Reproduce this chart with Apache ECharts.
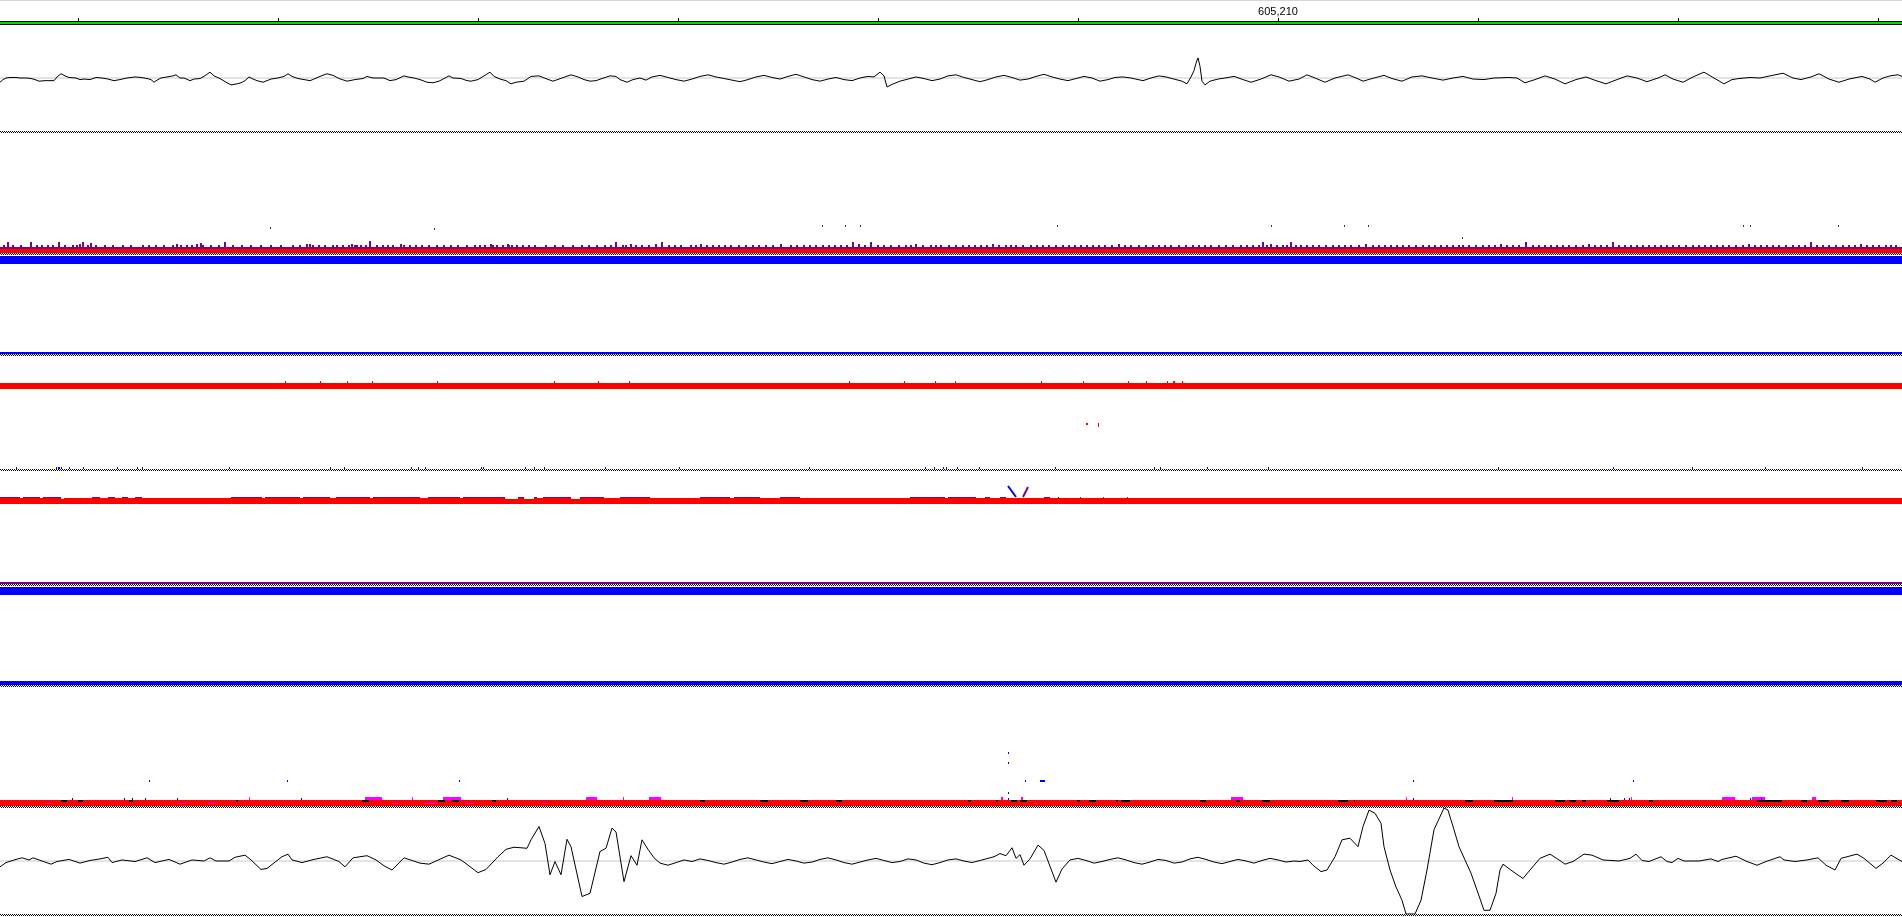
<!DOCTYPE html>
<html><head><meta charset="utf-8">
<script src="https://cdn.jsdelivr.net/npm/echarts@6/dist/echarts.min.js"></script>
<style>html,body{margin:0;padding:0;background:#fff;}#c{width:1902px;height:917px;}</style>
</head><body><div id="c"></div>
<script>
// ---------------- data ----------------
const VIEW_START = 603932, VIEW_END = 605834;          // genomic window (bp)
const rulerTicks = [604010,604210,604410,604610,604810,605010,605210,605410,605610,605810];
const rulerLabels = [605210];

// signal track A  [offset bp, value]
const wiggleA = [[0,-8],[3,-3],[6,0],[10,1],[16,1],[20,0],[27,0],[31,-1],[35,-3],[39,-6],[41,-9],[45,-5],[51,-5],[54,-5],[57,2],[61,8],[65,4],[69,1],[76,0],[80,-3],[84,-2],[90,-3],[96,1],[102,0],[108,-2],[114,-5],[120,-3],[127,0],[135,2],[141,1],[147,-1],[151,-3],[154,-8],[157,-4],[161,0],[167,2],[173,4],[176,6],[180,0],[184,0],[190,-5],[194,-2],[200,-1],[204,3],[210,11],[214,4],[220,-1],[227,-9],[231,-13],[237,-11],[241,-9],[245,-5],[249,2],[253,-2],[257,-5],[263,-8],[267,-5],[271,-2],[278,0],[284,3],[288,8],[292,3],[298,-1],[304,-3],[310,-5],[314,-2],[320,3],[327,8],[333,5],[339,-1],[347,-6],[355,-3],[363,-1],[367,3],[373,0],[384,0],[390,-5],[396,-3],[404,4],[408,2],[414,0],[420,-3],[427,-8],[433,-9],[439,-6],[445,0],[449,4],[453,0],[461,-1],[467,-5],[471,-6],[478,-3],[484,4],[490,11],[494,3],[500,-2],[506,-5],[511,-11],[516,-8],[524,-6],[531,3],[539,4],[547,-2],[553,-6],[559,-2],[565,2],[571,6],[578,2],[584,-3],[590,-6],[596,-5],[602,-1],[610,4],[616,3],[620,-3],[627,-8],[633,-3],[640,0],[646,-4],[652,2],[660,5],[668,1],[676,-3],[684,-6],[692,-2],[700,3],[708,6],[716,2],[724,-1],[732,-4],[740,-7],[748,-3],[756,2],[764,5],[772,1],[780,-2],[788,3],[796,7],[804,2],[812,-3],[820,-6],[828,-2],[836,1],[844,-3],[852,-5],[860,0],[868,3],[874,2],[880,11],[884,4],[887,-17],[892,-12],[900,-6],[908,-2],[916,2],[924,-1],[932,-5],[940,-2],[948,4],[956,6],[964,1],[972,-3],[980,-7],[988,-3],[996,2],[1004,5],[1012,1],[1020,-4],[1028,-2],[1036,3],[1044,7],[1052,2],[1060,-2],[1068,-5],[1076,-1],[1084,3],[1092,0],[1100,-6],[1108,-3],[1115,1],[1123,2],[1131,0],[1138,-3],[1143,-5],[1151,0],[1159,4],[1166,2],[1174,-2],[1182,-6],[1187,-11],[1191,2],[1194,14],[1196,28],[1198,38],[1200,22],[1202,-6],[1205,-13],[1210,-6],[1218,-2],[1225,0],[1234,3],[1243,-3],[1251,-8],[1261,-2],[1271,6],[1279,2],[1289,-6],[1299,-2],[1307,6],[1315,0],[1325,-8],[1335,0],[1348,6],[1356,0],[1363,-6],[1374,0],[1384,5],[1392,-1],[1402,-6],[1412,2],[1422,4],[1432,0],[1443,-4],[1453,0],[1463,3],[1473,-2],[1484,-3],[1494,0],[1509,1],[1517,0],[1525,-9],[1535,-3],[1545,4],[1555,-2],[1565,-11],[1576,-3],[1586,2],[1596,-5],[1606,-11],[1617,-3],[1627,4],[1637,0],[1647,-7],[1658,0],[1665,6],[1673,-2],[1683,-8],[1693,2],[1704,11],[1714,0],[1724,-11],[1732,-3],[1739,-1],[1750,1],[1760,0],[1770,4],[1783,9],[1793,0],[1801,-3],[1811,2],[1819,8],[1829,-2],[1839,-8],[1849,-2],[1862,3],[1870,-2],[1875,-8],[1883,0],[1890,4],[1898,6],[1902,3]];

// signal track B  [offset bp, value]
const wiggleB = [[0,-11],[6,-3],[16,3],[22,6],[29,2],[33,6],[39,2],[45,-2],[51,-6],[57,-1],[69,3],[80,-4],[90,1],[100,4],[108,7],[112,-3],[122,2],[135,-1],[147,6],[155,-3],[169,3],[180,-6],[192,2],[204,0],[210,6],[216,0],[229,0],[235,7],[245,11],[251,2],[261,-16],[267,-14],[282,8],[288,13],[292,2],[302,-3],[314,3],[327,8],[339,-1],[345,-11],[353,6],[367,10],[376,2],[384,-9],[392,-17],[404,6],[420,-4],[429,-6],[449,11],[461,2],[478,-22],[486,-16],[498,8],[506,22],[514,26],[527,24],[531,40],[539,65],[545,33],[550,-26],[555,-1],[561,-26],[567,41],[571,27],[582,-67],[590,-61],[600,18],[606,24],[612,62],[616,55],[624,-39],[631,10],[637,-8],[642,40],[648,22],[654,6],[660,-4],[668,-8],[676,-3],[684,2],[692,-1],[700,4],[708,1],[716,-3],[724,-6],[732,-2],[740,3],[748,6],[756,2],[764,-2],[772,-5],[780,-1],[788,3],[796,0],[804,-4],[812,-2],[820,3],[828,6],[836,2],[844,-3],[852,-6],[860,-2],[868,2],[876,5],[884,1],[892,-3],[900,-1],[908,4],[916,2],[924,-4],[932,-7],[940,-3],[948,2],[956,4],[964,0],[972,-3],[980,1],[988,5],[994,8],[1000,14],[1006,10],[1012,25],[1016,5],[1020,12],[1024,-8],[1030,4],[1038,30],[1044,20],[1050,-10],[1056,-40],[1062,-15],[1070,2],[1078,5],[1086,1],[1094,-4],[1102,-1],[1110,3],[1118,6],[1126,2],[1134,-3],[1142,-6],[1150,-2],[1158,3],[1166,1],[1174,-4],[1182,-2],[1190,4],[1198,7],[1206,3],[1214,-2],[1222,-5],[1230,-1],[1238,3],[1246,0],[1254,-4],[1262,1],[1270,5],[1278,2],[1286,-2],[1294,0],[1300,-1],[1308,2],[1313,-8],[1321,-20],[1327,-17],[1335,8],[1342,40],[1350,43],[1358,27],[1363,65],[1369,96],[1375,90],[1381,71],[1384,27],[1390,-17],[1396,-49],[1402,-74],[1406,-100],[1415,-100],[1421,-74],[1427,-17],[1434,59],[1444,100],[1448,96],[1454,59],[1459,27],[1465,2],[1471,-23],[1477,-55],[1484,-93],[1490,-93],[1496,-61],[1500,-17],[1503,-6],[1513,-20],[1523,-33],[1530,-17],[1540,5],[1550,13],[1559,2],[1565,-6],[1573,-1],[1584,13],[1592,11],[1603,2],[1619,0],[1630,5],[1636,13],[1642,1],[1649,-1],[1661,8],[1667,-1],[1672,-3],[1678,5],[1684,0],[1699,0],[1711,4],[1718,-1],[1722,3],[1736,9],[1747,-1],[1757,-8],[1766,-1],[1780,8],[1784,2],[1795,-1],[1807,2],[1818,6],[1826,-8],[1835,-17],[1841,5],[1857,13],[1864,5],[1876,-14],[1883,-4],[1891,11],[1902,-1]];

// coverage track levels (depth units)
const trackB_red = [0, 2], trackB_purple = [2, 3];
const trackB_fringe = [[3,1],[7,2.5],[12,1],[20,1],[30,2.5],[36,1],[41,1],[47,1],[52,1],[58,2.5],[64,1],[72,1],[76,1],[79,1.5],[82,2.5],[87,1],[90,2],[95,1],[104,1],[112,1],[122,1],[130,1],[142,1],[148,1],[155,1],[163,1],[172,1],[176,1.5],[180,1],[186,1],[191,1],[196,1.5],[200,2],[202,1],[210,1],[218,1],[224,2.5],[232,1],[241,1],[250,1],[260,1],[270,1],[280,1],[292,1],[299,1],[306,1.5],[309,1.5],[312,1],[318,1],[324,1],[332,1],[336,1],[342,1],[348,1],[351,1.5],[354,1],[356,1],[360,1],[365,1],[369,3],[376,1],[382,1],[387,1],[392,1],[400,1.5],[403,1],[409,1],[415,1],[421,1],[428,1],[436,1],[443,1],[450,1],[457,1],[466,1],[474,1],[479,1],[484,1],[490,1.5],[492,1],[496,1],[502,1],[507,1.5],[508,1],[511,1],[516,1],[522,1],[528,1],[534,1],[545,1],[554,1],[562,1],[572,1],[581,1],[588,1],[596,1],[604,1],[610,1],[615,2.5],[622,1],[625,1],[630,1.5],[635,1],[641,1],[648,1],[655,1.5],[661,2.5],[668,1],[674,1],[680,1],[690,1],[695,1],[700,1.5],[706,1],[712,1],[718,1],[724,1],[730,1],[738,1],[745,1],[752,1],[758,1],[765,1],[772,1],[780,1.5],[790,1],[796,1],[803,1],[809,1],[815,1],[822,1],[828,1],[834,1],[840,1],[846,1],[852,2.5],[858,1.5],[864,1],[870,2.5],[877,1],[883,1],[890,1],[898,1],[905,1],[910,1],[915,1.5],[922,1],[930,1],[935,1],[940,1],[948,1],[955,1],[962,1],[968,1],[974,1],[980,1],[986,1],[992,1.5],[998,1],[1005,1],[1010,1],[1015,1],[1022,1],[1030,1],[1036,1],[1042,1],[1048,1],[1055,1],[1062,1],[1068,1],[1074,1],[1080,1],[1086,1],[1092,1],[1098,1],[1104,1],[1111,1],[1118,1.5],[1124,1],[1130,1],[1138,1],[1145,1],[1152,1],[1158,1],[1164,1],[1170,1],[1178,1],[1185,1],[1192,1],[1198,1],[1204,1],[1210,1],[1218,1],[1225,1],[1232,1],[1240,1],[1246,1],[1252,1],[1258,1],[1262,2.5],[1266,1],[1270,1.5],[1276,1],[1282,1],[1286,1],[1290,2.5],[1295,1],[1300,1],[1306,1],[1312,1],[1318,1],[1325,1],[1332,1],[1338,1],[1344,1],[1350,1],[1358,1],[1365,1.5],[1372,1],[1378,1],[1384,1],[1390,1],[1396,1],[1402,1],[1408,1],[1415,1],[1422,1],[1428,1],[1434,1],[1440,1],[1446,1],[1452,1],[1458,1],[1462,1],[1468,1],[1475,1],[1482,1],[1488,1],[1494,1],[1500,1.5],[1506,1],[1512,1],[1518,1],[1525,2.5],[1532,1],[1538,1],[1544,1],[1550,1],[1556,1],[1562,1],[1568,1],[1575,1],[1582,1],[1588,1.5],[1594,1],[1600,1],[1606,1],[1612,2.5],[1618,1],[1624,1],[1630,1],[1636,1],[1642,1],[1648,1],[1654,1],[1660,1],[1666,1],[1672,1],[1678,1],[1685,1],[1692,1],[1698,1],[1704,1],[1710,1],[1716,1],[1722,1],[1728,1],[1735,1],[1742,1],[1748,1.5],[1754,1],[1760,1],[1766,1],[1772,1],[1778,1],[1785,1],[1792,1],[1798,1],[1804,1],[1810,2.5],[1816,1],[1822,1],[1828,1],[1835,1],[1842,1],[1848,1],[1854,1],[1860,1.5],[1866,1],[1872,1],[1878,1],[1885,1],[1890,1],[1895,1]];
const trackB_dots = [[270,12],[434,11.5],[822,13],[845,13],[860,13],[1057,13],[1271,13],[1344,13],[1368,13],[1462,7],[1743,13],[1750,13],[1838,13]];

const trackC_blueTop = [45, 49], trackC_blueBottom = [0, 1];

const trackD_red = [40, 43];
const trackD_redTicks = [285,320,347,372,437,554,598,629,849,904,935,955,1041,1083,1128,1146,1167,1173,1174,1182];
const trackD_redDots = [[1086,22,23],[1087,22,23],[1098,21,23]];
const trackD_blueTicks = [16,56,58,59,61,69,83,117,137,142,229,330,344,411,418,425,481,483,525,534,544,605,679,809,925,934,943,946,957,979,1055,1154,1160,1207,1268,1498,1613,1692,1765,1862];

const trackE_red = [40, 43], trackE_bottom = [0, 1];
const trackE_fringe = [[0,20],[23,40],[43,61],[92,100],[108,115],[122,128],[135,142],[231,262],[265,300],[303,330],[336,370],[373,420],[428,460],[463,505],[518,524],[534,537],[543,571],[580,604],[620,650],[700,730],[734,760],[780,800],[910,945],[948,976],[985,990],[1000,1006],[1044,1050],[1058,1059],[1080,1081],[1103,1104],[1127,1128]];
const trackE_gaps = [[61,64],[505,518],[524,534],[571,580]];
const trackE_splitDown = [[1008,49],[1016,43.5]];
const trackE_splitUp = [[1023,43.5],[1028,48.5]];

const trackF_blueTop = [45, 49], trackF_blueBottom = [0, 2];

const trackG_red = [0, 3];
const trackG_black = [[61,67],[78,83],[129,133],[236,238],[362,369],[438,445],[451,459],[492,496],[700,705],[760,768],[800,808],[836,842],[968,971],[996,998],[1011,1017],[1020,1027],[1077,1080],[1089,1096],[1116,1118],[1121,1130],[1200,1206],[1236,1240],[1262,1270],[1338,1348],[1354,1355],[1465,1473],[1494,1513],[1555,1565],[1569,1576],[1582,1586],[1607,1619],[1649,1653],[1757,1782],[1801,1807],[1818,1829],[1841,1849],[1876,1887],[1891,1897]];
const trackG_magentaAbove = [[249,249],[365,382],[412,412],[443,461],[586,597],[623,623],[649,661],[1001,1003],[1021,1023],[1231,1243],[1406,1407],[1512,1513],[1631,1632],[1722,1735],[1752,1765],[1812,1816]];
const trackG_magentaIn = [[47,51],[178,186],[208,216],[392,398],[424,437],[465,473],[542,547],[1034,1037]];
const trackG_blueTicks = [72,124,132,145,177,301,507,1008,1413,1610,1624,1629,1750,1761];
const trackG_blueDots = [[149,12],[287,12],[459,12],[1008,26],[1008,21],[1008,6],[1025,12],[1040,12],[1041,12],[1042,12],[1043,12],[1044,12],[1413,12],[1633,12]];

// ---------------- chart ----------------
const RED = '#ff0000', BLUE = '#0000ff', PURPLE = '#800080', MAGENTA = '#ff00ff', BLACK = '#000000';
const X = o => VIEW_START + o;
const FULL = lv => [[VIEW_START, VIEW_END, lv[0], lv[1]]];

const gridDefs = [
  {top: 21, height: 1},     // 0 ruler
  {top: 25, height: 106},   // 1 signal A
  {top: 133, height: 120},  // 2 coverage B
  {top: 255, height: 99},   // 3 C
  {top: 356, height: 113},  // 4 D
  {top: 471, height: 113},  // 5 E
  {top: 586, height: 99},   // 6 F
  {top: 687, height: 119},  // 7 G
  {top: 808, height: 106}   // 8 signal B
];
const yRanges = [[0,1],[-100,100],[0,60],[0,49.5],[0,56.5],[0,56.5],[0,49.5],[0,59.5],[-100,100]];

const grid = gridDefs.map(g => ({left: 0, right: 0, top: g.top, height: g.height, containLabel: false}));
const xAxis = gridDefs.map((g, i) => ({
  type: 'value', gridIndex: i, min: VIEW_START, max: VIEW_END,
  show: i === 0, position: 'top',
  axisLine: {show: false}, splitLine: {show: false},
  axisTick: {show: i === 0, customValues: rulerTicks, length: 4, lineStyle: {color: BLACK, width: 1}},
  axisLabel: {show: i === 0, customValues: rulerLabels, formatter: v => v.toLocaleString('en-US'),
              fontSize: 11, color: BLACK, fontFamily: 'Liberation Sans', margin: 4}
}));
const yAxis = yRanges.map((r, i) => ({type: 'value', gridIndex: i, min: r[0], max: r[1], show: false, splitLine: {show: false}}));

function rects(gi, items, color, minW) {
  const mw = minW || 1;
  return {
    type: 'custom', xAxisIndex: gi, yAxisIndex: gi, silent: true, clip: true, animation: false,
    encode: {x: [0, 1], y: [2, 3]}, data: items,
    renderItem(params, api) {
      const a = api.coord([api.value(0), api.value(3)]);
      const b = api.coord([api.value(1), api.value(2)]);
      const x = Math.floor(a[0]), y = Math.round(a[1]);
      const w = Math.max(mw, Math.round(b[0] - a[0]));
      const h = Math.max(1, Math.round(b[1]) - y);
      return {type: 'rect', shape: {x, y, width: w, height: h}, style: {fill: color}};
    }
  };
}
function signal(gi, pts) {
  return [
    {type: 'line', xAxisIndex: gi, yAxisIndex: gi, silent: true, animation: false, z: 2, symbol: 'none',
     data: [[VIEW_START, 0], [VIEW_END, 0]], lineStyle: {color: '#c8c8c8', width: 1}},
    {type: 'line', xAxisIndex: gi, yAxisIndex: gi, silent: true, animation: false, z: 3, symbol: 'none', clip: true,
     data: pts.map(([o, v]) => [X(o), v]), lineStyle: {color: BLACK, width: 1}}
  ];
}
const pt = (list, lo, hi) => list.map(o => [X(o), X(o), lo, hi]);
const seg = (list, lo, hi) => list.map(([s, e]) => [X(s), X(e), lo, hi]);

const series = [
  ...signal(1, wiggleA),
  // B
  rects(2, FULL(trackB_red), RED),
  rects(2, FULL(trackB_purple), PURPLE),
  rects(2, trackB_fringe.map(([o, h]) => [X(o), X(o), trackB_purple[1], trackB_purple[1] + h]), PURPLE, 2),
  rects(2, trackB_dots.map(([o, l]) => [X(o), X(o), l, l + 1]), PURPLE),
  // C
  rects(3, FULL(trackC_blueTop), BLUE),
  rects(3, FULL(trackC_blueBottom), BLUE),
  // D
  rects(4, FULL(trackD_red), RED),
  rects(4, pt(trackD_redTicks, trackD_red[1], trackD_red[1] + 1), RED),
  rects(4, trackD_redDots.map(([o, lo, hi]) => [X(o), X(o), lo, hi]), RED),
  rects(4, pt(trackD_blueTicks, 0, 1), BLUE),
  // E
  rects(5, FULL(trackE_red), RED),
  rects(5, seg(trackE_fringe, trackE_red[1], trackE_red[1] + 0.5), PURPLE),
  rects(5, seg(trackE_gaps, trackE_red[1] - 0.5, trackE_red[1] + 0.5), '#ffffff'),
  rects(5, FULL(trackE_bottom), PURPLE),
  {type: 'line', xAxisIndex: 5, yAxisIndex: 5, silent: true, animation: false, symbol: 'none',
   data: trackE_splitDown.map(([o, v]) => [X(o), v]), lineStyle: {color: BLUE, width: 2}},
  {type: 'line', xAxisIndex: 5, yAxisIndex: 5, silent: true, animation: false, symbol: 'none',
   data: trackE_splitUp.map(([o, v]) => [X(o), v]), lineStyle: {color: PURPLE, width: 2}},
  // F
  rects(6, FULL(trackF_blueTop), BLUE),
  rects(6, FULL(trackF_blueBottom), BLUE),
  // G
  rects(7, FULL(trackG_red), RED),
  rects(7, seg(trackG_magentaIn, 1, 1.5), MAGENTA),
  rects(7, seg(trackG_black, 2, 3), BLACK),
  rects(7, seg(trackG_magentaAbove, 3, 4.5), MAGENTA),
  rects(7, pt(trackG_blueTicks, 3, 4), BLUE),
  rects(7, trackG_blueDots.map(([o, l]) => [X(o), X(o), l, l + 1]), BLUE),
  ...signal(8, wiggleB)
];

const SEP_Y = [131, 253, 354, 469, 584, 685, 806, 914];
const graphic = [
  {type: 'rect', shape: {x: 0, y: 0, width: 1902, height: 1}, style: {fill: '#d6d6d6'}, silent: true},
  {type: 'rect', shape: {x: 0, y: 21, width: 1902, height: 4}, style: {fill: BLACK}, silent: true},
  {type: 'rect', shape: {x: 0, y: 22, width: 1902, height: 2}, style: {fill: '#00d800'}, silent: true}
];
SEP_Y.forEach(y => {
  graphic.push({type: 'line', silent: true, shape: {x1: 0, y1: y + 0.5, x2: 1902, y2: y + 0.5},
                style: {stroke: BLACK, lineWidth: 1, lineDash: [1, 1], lineDashOffset: 0}});
  graphic.push({type: 'line', silent: true, shape: {x1: 0, y1: y + 1.5, x2: 1902, y2: y + 1.5},
                style: {stroke: BLACK, lineWidth: 1, lineDash: [1, 1], lineDashOffset: 1}});
});

const chart = echarts.init(document.getElementById('c'), null, {renderer: 'canvas'});
chart.setOption({backgroundColor: '#ffffff', animation: false, grid, xAxis, yAxis, series, graphic});
</script></body></html>
